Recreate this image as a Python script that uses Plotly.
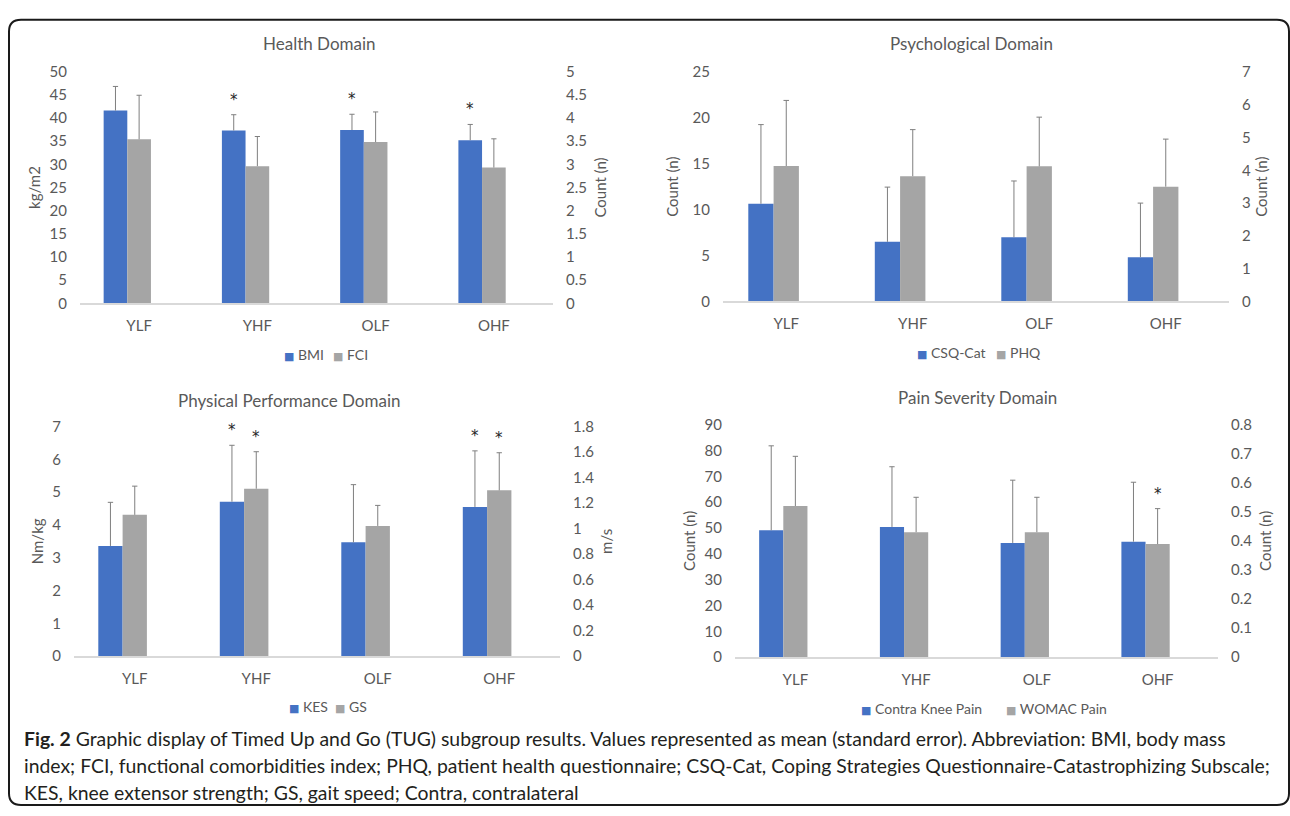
import plotly.graph_objects as go

W, H = 1290, 816

categories = ["YLF", "YHF", "OLF", "OHF"]

# Health Domain
bmi = [41.6, 37.3, 37.4, 35.2]
bmi_se = [5.2, 3.4, 3.4, 3.4]
fci = [3.54, 2.96, 3.48, 2.93]
fci_se = [0.95, 0.64, 0.65, 0.62]
bmi_sig = [False, True, True, True]
fci_sig = [False, False, False, False]

# Psychological Domain
csq = [10.64, 6.49, 6.99, 4.82]
csq_se = [8.62, 5.96, 6.13, 5.89]
phq = [4.13, 3.82, 4.12, 3.50]
phq_se = [2.00, 1.42, 1.50, 1.45]
csq_sig = [False, False, False, False]
phq_sig = [False, False, False, False]

# Physical Performance Domain
kes = [3.36, 4.71, 3.47, 4.55]
kes_se = [1.33, 1.72, 1.76, 1.71]
gs = [1.108, 1.313, 1.021, 1.300]
gs_se = [0.225, 0.290, 0.161, 0.295]
kes_sig = [False, True, False, True]
gs_sig = [False, True, False, True]

# Pain Severity Domain
contra = [49.1, 50.4, 44.2, 44.7]
contra_se = [32.7, 23.3, 24.3, 23.0]
womac = [0.520, 0.430, 0.430, 0.389]
womac_se = [0.171, 0.120, 0.120, 0.122]
contra_sig = [False, False, False, False]
womac_sig = [False, False, False, True]

BLUE = "#4472C4"
GRAY = "#A5A5A5"
ERR = "#7F7F7F"
TXT = "#595959"
FONT = "Lato"


def px(x):
    return x / W


def py(y):
    return 1 - y / H


panels = [
    dict(title="Health Domain", tx=319, ty=34,
         xdom=(80, 553), ydom=(63, 300),
         s1=("BMI", bmi, bmi_se, bmi_sig), s2=("FCI", fci, fci_se, fci_sig),
         r1=(0, 50), d1=5, r2=(0, 5), d2=0.5,
         t1="kg/m2", t2="Count (n)", so1=5, so2=9,
         leg=((282, 352), (331, 352))),
    dict(title="Psychological Domain", tx=971, ty=34,
         xdom=(723, 1229), ydom=(63.3, 298),
         s1=("CSQ-Cat", csq, csq_se, csq_sig), s2=("PHQ", phq, phq_se, phq_sig),
         r1=(0, 25), d1=5, r2=(0, 7), d2=1,
         t1="Count (n)", t2="Count (n)", so1=10, so2=6,
         leg=((915, 350), (994, 350))),
    dict(title="Physical Performance Domain", tx=289, ty=399,
         xdom=(74, 560), ydom=(426, 660.7),
         s1=("KES", kes, kes_se, kes_sig), s2=("GS", gs, gs_se, gs_sig),
         r1=(0, 7), d1=1, r2=(0, 1.8), d2=0.2,
         t1="Nm/kg", t2="m/s", so1=5, so2=8,
         leg=((287, 712), (333, 712))),
    dict(title="Pain Severity Domain", tx=978, ty=396,
         xdom=(735, 1218), ydom=(424, 661.7),
         s1=("Contra Knee Pain", contra, contra_se, contra_sig),
         s2=("WOMAC Pain", womac, womac_se, womac_sig),
         r1=(0, 90), d1=10, r2=(0, 0.8), d2=0.1,
         t1="Count (n)", t2="Count (n)", so1=5, so2=9,
         leg=((859, 714), (1004, 714))),
]

fig = go.Figure()
annotations = []
xpos = list(range(len(categories)))
CAP = 0.022

for k, p in enumerate(panels):
    xa = "x" if k == 0 else f"x{k + 1}"
    ya1 = "y" if k == 0 else f"y{2 * k + 1}"
    ya2 = f"y{2 * k + 2}"
    for (name, vals, se, sig), ya, color, off, lg in (
            (p["s1"], ya1, BLUE, -0.3, p["leg"][0]),
            (p["s2"], ya2, GRAY, -0.1, p["leg"][1])):
        fig.add_trace(go.Bar(
            x=xpos, y=vals, name=name, offset=off, width=0.2,
            marker=dict(color=color, line=dict(width=0)),
            xaxis=xa, yaxis=ya, showlegend=False,
        ))
        xc = off + 0.1
        ex, ey = [], []
        for i, (v, e) in enumerate(zip(vals, se)):
            ex += [i + xc, i + xc, None, i + xc - CAP, i + xc + CAP, None]
            ey += [v, v + e, None, v + e, v + e, None]
            if sig[i]:
                annotations.append(dict(
                    x=i + xc, y=v + e, xref=xa, yref=ya, text="*",
                    showarrow=False, yanchor="bottom", yshift=4,
                    font=dict(family="DejaVu Sans", size=15, color="#262626")))
        fig.add_trace(go.Scatter(
            x=ex, y=ey, mode="lines", line=dict(color=ERR, width=1),
            xaxis=xa, yaxis=ya, showlegend=False, hoverinfo="skip"))
        # legend entry: coloured square + series name
        annotations.append(dict(
            x=px(lg[0]), y=py(lg[1]), xref="paper", yref="paper",
            text=(f"<span style='color:{color};font-family:DejaVu Sans;"
                  f"font-size:11px'>■</span> {name}"),
            showarrow=False, xanchor="left", yanchor="middle",
            font=dict(family=FONT, size=14, color=TXT)))

    x0, x1 = p["xdom"]
    y0, y1 = p["ydom"]
    xkey = "xaxis" if k == 0 else f"xaxis{k + 1}"
    y1key = "yaxis" if k == 0 else f"yaxis{2 * k + 1}"
    y2key = f"yaxis{2 * k + 2}"
    fig.update_layout({
        xkey: dict(domain=[px(x0), px(x1)], range=[-0.5, 3.5],
                   tickvals=xpos, ticktext=categories, anchor=ya1,
                   showline=True, linecolor="#D9D9D9", linewidth=1.5,
                   showgrid=False, zeroline=False, ticks="",
                   ticklabelstandoff=8,
                   tickfont=dict(family=FONT, size=15, color=TXT)),
        y1key: dict(domain=[py(y1), py(y0)], range=list(p["r1"]),
                    dtick=p["d1"], tick0=0, anchor=xa, side="left",
                    showline=False, showgrid=False, zeroline=False,
                    ticks="", ticklabelstandoff=12,
                    tickfont=dict(family=FONT, size=15, color=TXT),
                    title=dict(text=p["t1"], standoff=p["so1"],
                               font=dict(family=FONT, size=15, color=TXT))),
        y2key: dict(domain=[py(y1), py(y0)], range=list(p["r2"]),
                    dtick=p["d2"], tick0=0, anchor=xa, overlaying=ya1,
                    side="right",
                    showline=False, showgrid=False, zeroline=False,
                    ticks="", ticklabelstandoff=12,
                    tickfont=dict(family=FONT, size=15, color=TXT),
                    title=dict(text=p["t2"], standoff=p["so2"],
                               font=dict(family=FONT, size=15, color=TXT))),
    })
    annotations.append(dict(
        x=px(p["tx"]), y=py(p["ty"]), xref="paper", yref="paper",
        text=p["title"], showarrow=False, xanchor="center", yanchor="middle",
        font=dict(family=FONT, size=17, color=TXT)))

caption_lines = [
    "<b>Fig. 2</b> Graphic display of Timed Up and Go (TUG) subgroup results. "
    "Values represented as mean (standard error). Abbreviation: BMI, body mass",
    "index; FCI, functional comorbidities index; PHQ, patient health questionnaire; "
    "CSQ-Cat, Coping Strategies Questionnaire-Catastrophizing Subscale;",
    "KES, knee extensor strength; GS, gait speed; Contra, contralateral",
]
caption_y = [745, 772.5, 800]
for line, yy in zip(caption_lines, caption_y):
    annotations.append(dict(
        x=px(22), y=py(yy), xref="paper", yref="paper", text=line,
        showarrow=False, xanchor="left", yanchor="middle",
        font=dict(family=FONT, size=19.4, color="#231F20")))

# rounded frame around the figure
L, T, R, B, r = 9, 10, 1289, 813, 12
rx, ry = r / W, r / H
path = (f"M {px(L + r)},{py(T)} L {px(R - r)},{py(T)} "
        f"Q {px(R)},{py(T)} {px(R)},{py(T) - ry} "
        f"L {px(R)},{py(B) + ry} Q {px(R)},{py(B)} {px(R) - rx},{py(B)} "
        f"L {px(L) + rx},{py(B)} Q {px(L)},{py(B)} {px(L)},{py(B) + ry} "
        f"L {px(L)},{py(T) - ry} Q {px(L)},{py(T)} {px(L) + rx},{py(T)} Z")

fig.update_layout(
    width=W, height=H,
    margin=dict(l=0, r=0, t=0, b=0),
    paper_bgcolor="white", plot_bgcolor="rgba(0,0,0,0)",
    barmode="overlay",
    showlegend=False,
    annotations=annotations,
    shapes=[dict(type="path", path=path, xref="paper", yref="paper",
                 line=dict(color="#1A1A1A", width=2), layer="above")],
    font=dict(family=FONT, color=TXT),
)

fig.write_html(
    "out.html",
    config={"displayModeBar": False},
    post_script=(
        "document.body.style.margin='0px';"
        "document.documentElement.style.overflow='hidden';"
        "var gd=document.getElementById('{plot_id}');"
        "gd.style.position='fixed';gd.style.top='0px';gd.style.left='0px';"
    ),
)
